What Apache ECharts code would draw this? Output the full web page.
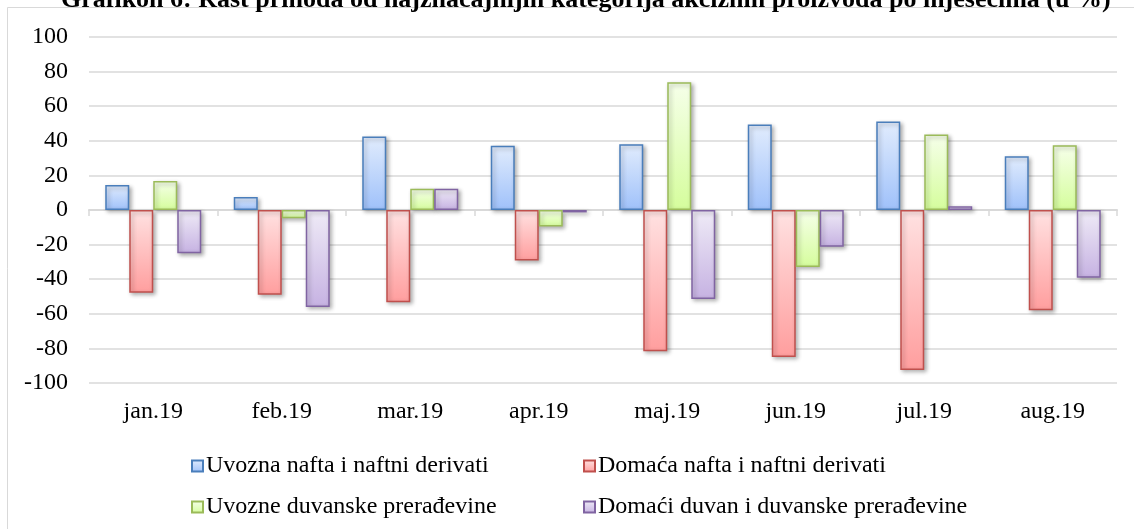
<!DOCTYPE html>
<html>
<head>
<meta charset="utf-8">
<script src="https://cdn.jsdelivr.net/npm/echarts@6/dist/echarts.min.js"></script>
<style>
    html, body { margin: 0; padding: 0; background: #fff; }
    #chart { width: 1134px; height: 529px; }
</style>
</head>
<body>
<div id="chart"></div>
<script>
const months = ['jan.19', 'feb.19', 'mar.19', 'apr.19', 'maj.19', 'jun.19', 'jul.19', 'aug.19'];
const uvoznaNafta = [14.5, 7.5, 42.5, 37.2, 38, 49.4, 51.1, 31];
const domacaNafta = [-47.9, -49, -53.3, -29.2, -81.6, -84.9, -92.5, -58];
const uvozneDuvan = [16.8, -4.8, 12.3, -9.5, 73.9, -33, 43.6, 37.4];
const domaciDuvan = [-25, -56, 12.3, -1.4, -51.5, -21.2, 2.1, -39.2];
const seriesNames = [
    'Uvozna nafta i naftni derivati',
    'Domaća nafta i naftni derivati',
    'Uvozne duvanske prerađevine',
    'Domaći duvan i duvanske prerađevine'
];

const font = '"Liberation Serif", "Times New Roman", serif';

// top colour, bottom colour, border
const styles = [
    ['#e1ecfd', '#9fc1fa', '#4a7ebb'],
    ['#ffe2e2', '#ff9e9e', '#c0504d'],
    ['#f6ffea', '#d5fd9c', '#9bbb59'],
    ['#efebf7', '#c6b2e2', '#8064a2']
];

const makeSeries = (name, data, st) => ({
    name: name,
    type: 'bar',
    data: data,
    barWidth: 24,
    barGap: '0%',
    itemStyle: {
        color: new echarts.graphic.LinearGradient(0, 0, 0, 1, [
            {offset: 0, color: st[0]},
            {offset: 1, color: st[1]}
        ]),
        borderColor: st[2],
        borderWidth: 1.5,
        shadowColor: 'rgba(0,0,0,0.3)',
        shadowBlur: 4,
        shadowOffsetX: 2,
        shadowOffsetY: 2
    }
});

const legendPos = [[186, 449], [578, 449], [186, 490], [578, 490]];

let myChart = echarts.init(document.getElementById('chart'));

let option = {
    backgroundColor: '#fff',
    animation: false,
    title: {
        text: 'Grafikon 6: Rast prihoda od najznačajnijih kategorija akciznih proizvoda po mjesecima (u %)',
        left: 56,
        top: -18,
        textStyle: {
            fontFamily: font,
            fontWeight: 'bold',
            fontSize: 26,
            color: '#000'
        }
    },
    graphic: [{
        type: 'rect',
        shape: {x: 7.5, y: 7.5, width: 1140, height: 540},
        style: {fill: 'none', stroke: '#d9d9d9', lineWidth: 1},
        z: -1
    }],
    legend: legendPos.map((p, i) => ({
        data: [seriesNames[i]],
        left: p[0],
        top: p[1],
        itemWidth: 11,
        itemHeight: 11,
        itemGap: 0,
        icon: 'rect',
        textStyle: {fontFamily: font, fontSize: 24, color: '#000', padding: [0, 0, 0, -2]}
    })),
    grid: {
        left: 89,
        right: 17,
        top: 37,
        bottom: 146
    },
    xAxis: [{
        type: 'category',
        data: months,
        axisLine: {onZero: true, lineStyle: {color: '#d9d9d9', width: 2}},
        axisTick: {show: true, length: 6, lineStyle: {color: '#d9d9d9', width: 1.5}},
        axisLabel: {show: false}
    }, {
        type: 'category',
        data: months,
        position: 'bottom',
        axisLine: {show: false},
        axisTick: {show: false},
        axisLabel: {
            margin: 17,
            fontFamily: font,
            fontSize: 24,
            color: '#000'
        }
    }],
    yAxis: {
        type: 'value',
        min: -100,
        max: 100,
        interval: 20,
        axisLine: {show: false},
        axisTick: {show: false},
        splitLine: {lineStyle: {color: '#d9d9d9', width: 1.5}},
        axisLabel: {
            margin: 21,
            fontFamily: font,
            fontSize: 24,
            color: '#000'
        }
    },
    series: [
        makeSeries(seriesNames[0], uvoznaNafta, styles[0]),
        makeSeries(seriesNames[1], domacaNafta, styles[1]),
        makeSeries(seriesNames[2], uvozneDuvan, styles[2]),
        makeSeries(seriesNames[3], domaciDuvan, styles[3])
    ]
};

myChart.setOption(option);
</script>
</body>
</html>
